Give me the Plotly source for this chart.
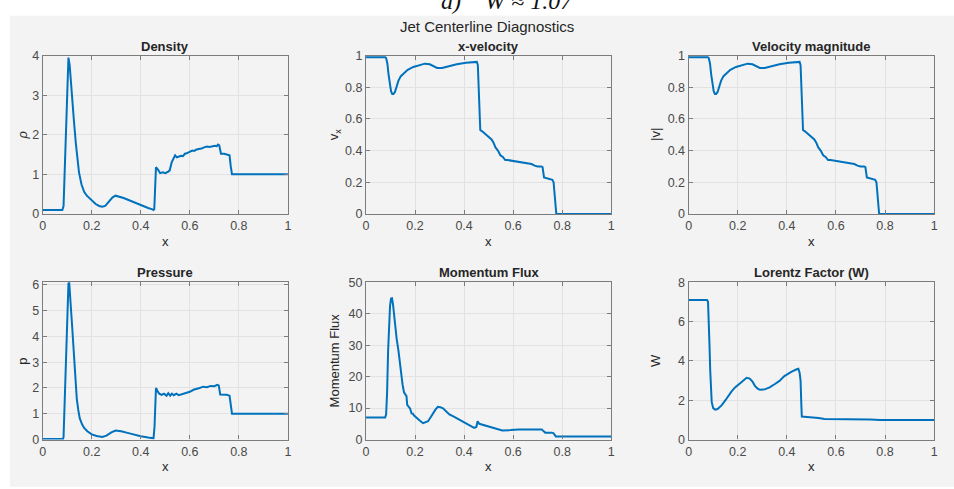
import plotly.graph_objects as go

# ---- centerline profiles -------------------------------------------------
x_rho = [0, 0.08, 0.085, 0.09, 0.095, 0.1, 0.105, 0.11, 0.115, 0.121, 0.128, 0.135,
         0.142, 0.148, 0.158, 0.169, 0.18, 0.19, 0.2, 0.216, 0.23, 0.243, 0.255, 0.27,
         0.285, 0.297, 0.31, 0.33, 0.35, 0.38, 0.405, 0.43, 0.445, 0.452, 0.455, 0.458,
         0.462, 0.47, 0.479, 0.49, 0.5, 0.512, 0.518, 0.526, 0.534, 0.54, 0.547, 0.555,
         0.565, 0.572, 0.58, 0.587, 0.594, 0.602, 0.61, 0.618, 0.625, 0.636, 0.648, 0.658,
         0.67, 0.68, 0.69, 0.702, 0.71, 0.715, 0.72, 0.727, 0.74, 0.755, 0.762, 0.767,
         0.772, 0.8, 1.0]
rho = [0.1, 0.1, 0.2, 1.1, 2.2, 3.3, 3.95, 3.75, 3.3, 2.85, 2.3, 1.79, 1.35, 1.05, 0.75,
       0.56, 0.46, 0.4, 0.33, 0.25, 0.2, 0.18, 0.2, 0.32, 0.42, 0.46, 0.44, 0.4, 0.35,
       0.27, 0.2, 0.15, 0.12, 0.1, 0.12, 0.6, 1.18, 1.12, 1.03, 1.05, 1.03, 1.07, 1.1,
       1.3, 1.42, 1.48, 1.43, 1.45, 1.47, 1.46, 1.52, 1.53, 1.55, 1.56, 1.6, 1.59, 1.62,
       1.64, 1.65, 1.68, 1.7, 1.69, 1.71, 1.72, 1.71, 1.75, 1.73, 1.52, 1.52, 1.5, 1.48,
       1.2, 1.0, 1.0, 1.0]

x_vx = [0, 0.078, 0.082, 0.087, 0.092, 0.097, 0.102, 0.107, 0.112, 0.118, 0.125, 0.132,
        0.142, 0.152, 0.17, 0.193, 0.215, 0.24, 0.26, 0.275, 0.29, 0.31, 0.34, 0.37,
        0.408, 0.435, 0.452, 0.456, 0.459, 0.462, 0.466, 0.475, 0.49, 0.5, 0.512, 0.52,
        0.528, 0.538, 0.548, 0.558, 0.568, 0.578, 0.6, 0.612, 0.625, 0.638, 0.65, 0.662,
        0.675, 0.688, 0.7, 0.715, 0.72, 0.726, 0.735, 0.75, 0.76, 0.765, 0.769, 0.773,
        0.776, 0.8, 1.0]
vx = [0.99, 0.99, 0.985, 0.95, 0.88, 0.81, 0.775, 0.758, 0.758, 0.77, 0.81, 0.84, 0.87,
      0.885, 0.91, 0.928, 0.94, 0.949, 0.945, 0.935, 0.922, 0.922, 0.935, 0.945, 0.955,
      0.96, 0.96, 0.94, 0.8, 0.6, 0.53, 0.52, 0.5, 0.49, 0.47, 0.45, 0.42, 0.4, 0.37,
      0.36, 0.34, 0.34, 0.335, 0.332, 0.33, 0.325, 0.32, 0.318, 0.315, 0.305, 0.3, 0.3,
      0.295, 0.23, 0.225, 0.22, 0.215, 0.2, 0.1, 0.02, 0.0, 0.0, 0.0]

# transverse velocity vanishes on the axis, so |v| follows v_x
x_vmag = list(x_vx)
vmag = list(vx)

x_p = [0, 0.083, 0.085, 0.09, 0.095, 0.1, 0.105, 0.108, 0.111, 0.115, 0.12, 0.124, 0.128,
       0.131, 0.135, 0.139, 0.145, 0.151, 0.16, 0.169, 0.182, 0.2, 0.22, 0.243, 0.26,
       0.28, 0.297, 0.32, 0.35, 0.38, 0.4, 0.43, 0.452, 0.456, 0.459, 0.462, 0.468,
       0.475, 0.485, 0.495, 0.505, 0.512, 0.52, 0.527, 0.535, 0.545, 0.555, 0.565, 0.58,
       0.6, 0.615, 0.625, 0.64, 0.655, 0.67, 0.685, 0.7, 0.712, 0.718, 0.724, 0.735,
       0.75, 0.762, 0.767, 0.772, 0.8, 1.0]
p = [0.02, 0.02, 0.1, 1.5, 3.3, 5.0, 6.05, 6.1, 5.8, 5.1, 4.4, 3.84, 3.1, 2.58, 2.05,
     1.58, 1.15, 0.83, 0.6, 0.45, 0.32, 0.2, 0.14, 0.1, 0.15, 0.28, 0.35, 0.32, 0.25,
     0.17, 0.13, 0.08, 0.05, 0.5, 1.6, 2.0, 1.88, 1.78, 1.73, 1.78, 1.7, 1.8, 1.7, 1.78,
     1.72, 1.78, 1.72, 1.75, 1.8, 1.85, 1.93, 1.97, 2.0, 2.05, 2.03, 2.08, 2.07, 2.12,
     2.1, 1.75, 1.75, 1.74, 1.7, 1.3, 1.0, 1.0, 1.0]

x_mf = [0, 0.078, 0.082, 0.086, 0.09, 0.094, 0.098, 0.102, 0.106, 0.11, 0.118, 0.125,
        0.132, 0.138, 0.143, 0.149, 0.155, 0.16, 0.165, 0.168, 0.175, 0.18, 0.186, 0.191,
        0.196, 0.206, 0.212, 0.22, 0.233, 0.243, 0.253, 0.263, 0.273, 0.283, 0.293, 0.303,
        0.314, 0.327, 0.34, 0.36, 0.381, 0.4, 0.421, 0.441, 0.45, 0.455, 0.462, 0.475,
        0.495, 0.515, 0.535, 0.556, 0.59, 0.623, 0.67, 0.717, 0.725, 0.731, 0.758, 0.765,
        0.774, 0.8, 1.0]
mom_flux = [7.0, 7.0, 8.0, 15, 28, 37, 42.5, 44.8, 44.9, 43, 36.6, 32, 28.4, 24, 21.2,
            17.5, 15, 14.2, 13.8, 11.0, 10.3, 9.8, 8.3, 8.2, 7.6, 6.8, 6.6, 6.0, 5.2, 5.4,
            5.8, 7.0, 8.3, 9.5, 10.4, 10.3, 9.9, 9.0, 8.0, 7.2, 6.3, 5.5, 4.7, 3.7, 4.0,
            5.8, 5.0, 4.7, 4.2, 3.7, 3.2, 2.9, 3.0, 3.2, 3.2, 3.2, 2.6, 2.2, 2.2, 2.0, 1.0,
            1.0, 1.0]

x_w = [0, 0.075, 0.079, 0.082, 0.085, 0.088, 0.091, 0.094, 0.1, 0.108, 0.118, 0.135,
       0.15, 0.162, 0.175, 0.189, 0.2, 0.216, 0.236, 0.249, 0.26, 0.27, 0.28, 0.29, 0.31,
       0.33, 0.35, 0.37, 0.39, 0.405, 0.418, 0.438, 0.447, 0.452, 0.456, 0.459, 0.461,
       0.47, 0.49, 0.512, 0.53, 0.553, 0.6, 0.65, 0.7, 0.74, 0.78, 0.8, 1.0]
lorentz_w = [7.09, 7.09, 7.0, 6.2, 4.8, 3.5, 2.5, 1.9, 1.6, 1.52, 1.55, 1.75, 2.0, 2.24,
             2.45, 2.65, 2.78, 2.93, 3.14, 3.1, 2.95, 2.73, 2.6, 2.53, 2.55, 2.65, 2.81,
             2.98, 3.23, 3.35, 3.44, 3.56, 3.6, 3.4, 3.0, 1.8, 1.17, 1.16, 1.15, 1.13, 1.1,
             1.05, 1.05, 1.05, 1.04, 1.02, 1.0, 1.0, 1.0]

panels = [
    dict(title="Density", ylabel="<i>ρ</i>", x=x_rho, y=rho, yrange=[0, 4], dtick=1),
    dict(title="x-velocity", ylabel="v<sub>x</sub>", x=x_vx, y=vx, yrange=[0, 1], dtick=0.2),
    dict(title="Velocity magnitude", ylabel="|v|", x=x_vmag, y=vmag, yrange=[0, 1], dtick=0.2),
    dict(title="Pressure", ylabel="p", x=x_p, y=p, yrange=[0, 6.1], dtick=1),
    dict(title="Momentum Flux", ylabel="Momentum Flux", x=x_mf, y=mom_flux, yrange=[0, 50], dtick=10),
    dict(title="Lorentz Factor (W)", ylabel="W", x=x_w, y=lorentz_w, yrange=[0, 8], dtick=2),
]

# ---- page geometry (pixels) ----------------------------------------------
W_PX, H_PX = 954, 489
col_px = [(40, 287), (365.7, 612.7), (690.7, 938)]
row_px = [(50, 213), (283.3, 445.3)]
ylabel_x_px = [20, 334, 658]
title_y_px = [41, 273]
xlabel_y_px = [241, 473]


def px(xp):
    return xp / W_PX


def py(yp):
    return 1 - yp / H_PX


LINE = "#0072BD"
FRAME = "#7c7c7c"
GRID = "#e2e2e2"
TXT = "#262626"
TICK_TXT = "#4a4a4a"
FONT = "Liberation Sans, Arial, sans-serif"

fig = go.Figure()
annotations = []
layout_axes = {}

for i, pan in enumerate(panels):
    r, c = divmod(i, 3)
    n = i + 1
    xa = "x" if n == 1 else f"x{n}"
    ya = "y" if n == 1 else f"y{n}"
    fig.add_trace(go.Scatter(x=pan["x"], y=pan["y"], mode="lines",
                             line=dict(color=LINE, width=2),
                             xaxis=xa, yaxis=ya, showlegend=False))
    x0, x1 = col_px[c]
    y0, y1 = row_px[r]
    common = dict(showgrid=True, gridcolor=GRID, gridwidth=1, zeroline=False,
                  showline=True, linecolor=FRAME, linewidth=1.2, mirror="ticks",
                  ticks="inside", ticklen=4, tickcolor=FRAME,
                  tickfont=dict(family=FONT, size=12.5, color=TICK_TXT))
    layout_axes["xaxis" if n == 1 else f"xaxis{n}"] = dict(
        domain=[px(x0), px(x1)], range=[0, 1], dtick=0.2, tick0=0,
        anchor=ya, **common)
    layout_axes["yaxis" if n == 1 else f"yaxis{n}"] = dict(
        domain=[py(y1), py(y0)], range=pan["yrange"], dtick=pan["dtick"], tick0=0,
        anchor=xa, **common)

    cx = (x0 + x1) / 2
    annotations.append(dict(text=f"<b>{pan['title']}</b>", x=px(cx), y=py(title_y_px[r]),
                            xref="paper", yref="paper", showarrow=False,
                            xanchor="center", yanchor="middle",
                            font=dict(family=FONT, size=13, color=TXT)))
    annotations.append(dict(text="x", x=px(cx), y=py(xlabel_y_px[r]),
                            xref="paper", yref="paper", showarrow=False,
                            xanchor="center", yanchor="middle",
                            font=dict(family=FONT, size=13, color=TXT)))
    annotations.append(dict(text=pan["ylabel"], x=px(ylabel_x_px[c]), y=py((y0 + y1) / 2),
                            xref="paper", yref="paper", showarrow=False, textangle=-90,
                            xanchor="center", yanchor="middle",
                            font=dict(family=FONT, size=13, color=TXT)))

annotations.append(dict(text="Jet Centerline Diagnostics", x=px(488), y=py(20),
                        xref="paper", yref="paper", showarrow=False,
                        xanchor="center", yanchor="middle",
                        font=dict(family=FONT, size=15, color=TXT)))
annotations.append(dict(text="<i>a)    W ≈ 1.07</i>", x=px(508), y=py(-6),
                        xref="paper", yref="paper", showarrow=False,
                        xanchor="center", yanchor="middle",
                        font=dict(family="Liberation Serif, Times New Roman, serif",
                                  size=24, color="#111111")))

shapes = [dict(type="rect", xref="paper", yref="paper", x0=px(7), x1=px(W_PX + 5),
               y0=py(H_PX + 5), y1=py(9), fillcolor="#f3f3f3", line=dict(width=0),
               layer="below")]

fig.update_layout(width=W_PX, height=H_PX, margin=dict(l=0, r=0, t=0, b=0),
                  paper_bgcolor="white", plot_bgcolor="white",
                  annotations=annotations, shapes=shapes, **layout_axes)

fig.write_html("out.html")
